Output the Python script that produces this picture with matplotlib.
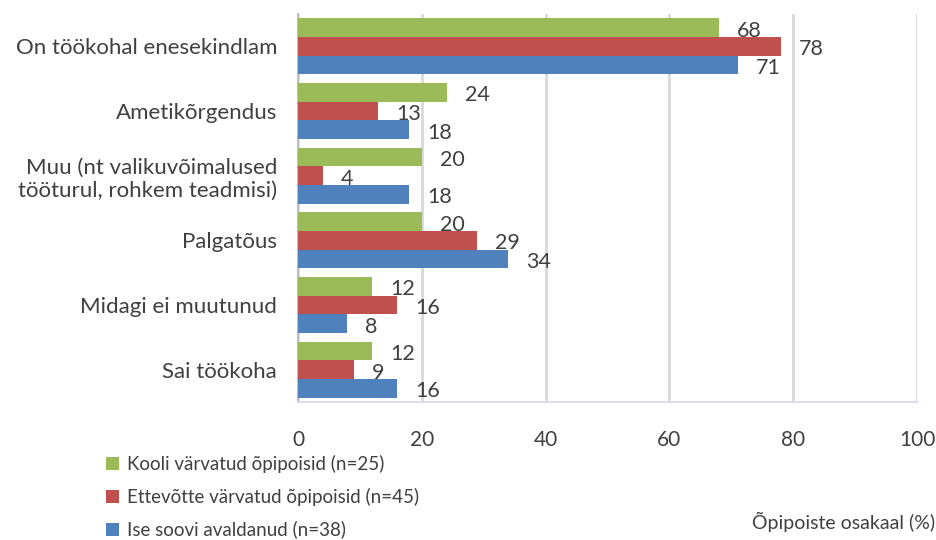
#!/usr/bin/env python3
"""Horizontal grouped bar chart of apprenticeship outcomes by recruitment type."""

import matplotlib
matplotlib.use("Agg")
import matplotlib.pyplot as plt
import numpy as np

CATEGORIES = ["On töökohal enesekindlam", "Ametikõrgendus",
              "Muu (nt valikuvõimalused\ntööturul, rohkem teadmisi)",
              "Palgatõus", "Midagi ei muutunud", "Sai töökoha"]
SERIES = ["Kooli värvatud õpipoisid (n=25)",
          "Ettevõtte värvatud õpipoisid (n=45)",
          "Ise soovi avaldanud (n=38)"]
KOOLI = [68, 24, 20, 20, 12, 12]
ETTEVOTE = [78, 13, 4, 29, 16, 9]
ISE = [71, 18, 18, 34, 8, 16]
XTICKS = [0, 20, 40, 60, 80, 100]
XLABEL = "Õpipoiste osakaal (%)"

_color = {'green': '#9BBB59', 'red': '#C0504D', 'blue': '#4F81BD',
          'text': '#404040', 'grid': '#D9D9D9', 'base': '#D6DFEA'}

plt.rcParams['font.family'] = ['Lato', 'DejaVu Sans']


def main():
    fig = plt.figure(figsize=(9.37, 5.4), dpi=100)
    ax = fig.add_axes([0.318, 0.2556, 0.6607, 0.7184])

    y = np.arange(len(CATEGORIES))
    h = 0.29
    series = [(KOOLI, _color['green']), (ETTEVOTE, _color['red']),
              (ISE, _color['blue'])]
    for i, ((vals, col), name) in enumerate(zip(series, SERIES)):
        pos = y + (i - 1) * h
        ax.barh(pos, vals, height=h, color=col, label=name, zorder=3)
        for p, v in zip(pos, vals):
            ax.annotate(str(v), (v, p), xytext=(18, -3),
                        textcoords='offset pixels', va='center', ha='left',
                        fontsize=15.5, color=_color['text'])

    ax.set_xlim(0, 100)
    ax.set_ylim(len(CATEGORIES) - 0.5, -0.5)
    ax.set_xticks(XTICKS)
    ax.set_yticks(y)
    ax.set_yticklabels(CATEGORIES, fontsize=16, color=_color['text'],
                       linespacing=1.2)
    ax.tick_params(axis='y', length=0, pad=15)
    ax.tick_params(axis='x', length=0, pad=20, labelsize=15,
                   labelcolor=_color['text'])
    ax.grid(axis='x', color=_color['grid'], linewidth=2, zorder=0)
    for side in ['top', 'right']:
        ax.spines[side].set_visible(False)
    ax.spines['left'].set_color('#BFBFBF')
    ax.spines['left'].set_linewidth(1.5)
    ax.spines['bottom'].set_color(_color['base'])
    ax.spines['bottom'].set_linewidth(1.5)

    leg = fig.legend(loc='upper left', bbox_to_anchor=(0.105, 0.172),
                     frameon=False, fontsize=13.5, handlelength=0.7,
                     handleheight=0.7, handletextpad=0.4, labelspacing=0.8,
                     borderaxespad=0)
    for t in leg.get_texts():
        t.set_color(_color['text'])

    fig.text(0.998, 0.033, XLABEL, ha='right', va='center', fontsize=14,
             color=_color['text'])

    fig.savefig("out.png", dpi=100)
    plt.close(fig)


if __name__ == '__main__':
    main()
